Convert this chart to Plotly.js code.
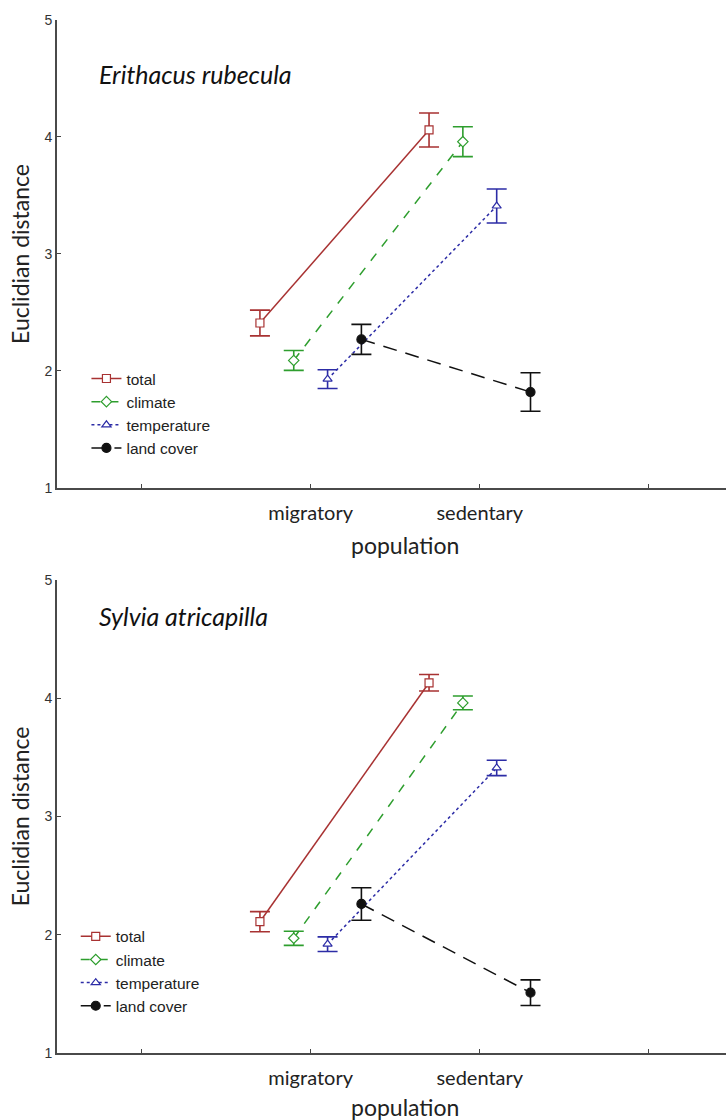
<!DOCTYPE html>
<html>
<head>
<meta charset="utf-8">
<script src="https://cdn.plot.ly/plotly-3.0.1.min.js"></script>
<style>html,body{margin:0;padding:0;background:#fff;}#chart{width:726px;height:1120px;}</style>
</head>
<body>
<div id="chart"></div>
<script>
// ---- data ----
const categories = ['migratory', 'sedentary'];
const seriesNames = ['total', 'climate', 'temperature', 'land cover'];
const yTicks = [1, 2, 3, 4, 5];

// Erithacus rubecula
const robinTotal = [2.41, 4.06];
const robinTotalErr = [0.11, 0.145];
const robinClimate = [2.09, 3.96];
const robinClimateErr = [0.085, 0.128];
const robinTemperature = [1.93, 3.41];
const robinTemperatureErr = [0.08, 0.145];
const robinLandCover = [2.27, 1.82];
const robinLandCoverErr = [0.128, 0.165];

// Sylvia atricapilla
const blackcapTotal = [2.11, 4.13];
const blackcapTotalErr = [0.085, 0.07];
const blackcapClimate = [1.97, 3.96];
const blackcapClimateErr = [0.06, 0.058];
const blackcapTemperature = [1.92, 3.41];
const blackcapTemperatureErr = [0.062, 0.065];
const blackcapLandCover = [2.26, 1.51];
const blackcapLandCoverErr = [0.137, 0.108];

// ---- styles ----
const styles = [
  {color: '#a83232', dash: 'solid', symbol: 'square', fill: '#ffffff', size: 8, offset: -0.3},
  {color: '#2e9e2e', dash: 'dash', symbol: 'diamond', fill: '#ffffff', size: 8, offset: -0.1},
  {color: '#2c2ca6', dash: 'dot', symbol: 'triangle-up', fill: '#ffffff', size: 8, offset: 0.1},
  {color: '#111111', dash: '14px,9px', symbol: 'circle', fill: '#111111', size: 9, offset: 0.3}
];

function makeTraces(values, errs, xa, ya, legendId) {
  return values.map((v, i) => {
    const s = styles[i];
    return {
      type: 'scatter', mode: 'lines+markers',
      name: seriesNames[i],
      x: categories.map((c, k) => k + 1 + s.offset),
      y: v,
      xaxis: xa, yaxis: ya, legend: legendId,
      line: {color: s.color, width: 1.5, dash: s.dash},
      marker: {symbol: s.symbol, size: s.size, color: s.fill, line: {color: s.color, width: 1.2}},
      error_y: {type: 'data', array: errs[i], visible: true, color: s.color, thickness: 1.6, width: 10}
    };
  });
}

const traces = [].concat(
  makeTraces([robinTotal, robinClimate, robinTemperature, robinLandCover],
             [robinTotalErr, robinClimateErr, robinTemperatureErr, robinLandCoverErr], 'x', 'y', 'legend'),
  makeTraces([blackcapTotal, blackcapClimate, blackcapTemperature, blackcapLandCover],
             [blackcapTotalErr, blackcapClimateErr, blackcapTemperatureErr, blackcapLandCoverErr], 'x2', 'y2', 'legend2')
);

const tickFont = {family: 'Liberation Sans, Arial, sans-serif', size: 14, color: '#333'};
const labelFont = {family: 'Lato, Open Sans, sans-serif', size: 20, color: '#222'};
const titleFont = {family: 'Lato, Open Sans, sans-serif', size: 23, color: '#222'};

function xAxis(anchor) {
  return {
    anchor: anchor, domain: [0, 1], range: [-0.5, 3.456],
    tickmode: 'array', tickvals: [0, 1, 2, 3], ticktext: ['', categories[0], categories[1], ''],
    ticks: 'inside', ticklen: 4, tickcolor: '#444', tickwidth: 1,
    showline: true, linecolor: '#4a4a4a', linewidth: 2,
    showgrid: false, zeroline: false, tickfont: labelFont,
    ticklabelstandoff: 6
  };
}
function yAxis(anchor, domain) {
  return {
    anchor: anchor, domain: domain, range: [1, 5],
    tickmode: 'array', tickvals: yTicks,
    ticks: 'inside', ticklen: 4, tickcolor: '#444', tickwidth: 1,
    showline: true, linecolor: '#4a4a4a', linewidth: 2,
    showgrid: false, zeroline: false, tickfont: tickFont,
    title: {text: 'Euclidian distance', font: titleFont, standoff: 8}
  };
}

const legendFont = {family: 'Liberation Sans, Arial, sans-serif', size: 15.5, color: '#222'};

const layout = {
  width: 726, height: 1120,
  margin: {l: 57, r: 0, t: 20, b: 67},
  paper_bgcolor: '#fff', plot_bgcolor: '#fff',
  showlegend: true,
  xaxis: xAxis('y'),
  yaxis: yAxis('x', [0.547, 1]),
  xaxis2: xAxis('y2'),
  yaxis2: yAxis('x2', [0, 0.458]),
  legend: {x: 0.044, y: 0.669, xanchor: 'left', yanchor: 'top', font: legendFont,
           bgcolor: 'rgba(0,0,0,0)', itemwidth: 30, tracegroupgap: 0},
  legend2: {x: 0.028, y: 0.129, xanchor: 'left', yanchor: 'top', font: legendFont,
            bgcolor: 'rgba(0,0,0,0)', itemwidth: 30, tracegroupgap: 0},
  annotations: [
    {text: 'Erithacus rubecula', xref: 'paper', yref: 'paper', x: 0.06, y: 0.948, xanchor: 'left', yanchor: 'middle',
     showarrow: false, font: {family: 'Lato, Open Sans, sans-serif', size: 25, color: '#111', style: 'italic'}},
    {text: 'Sylvia atricapilla', xref: 'paper', yref: 'paper', x: 0.06, y: 0.423, xanchor: 'left', yanchor: 'middle',
     showarrow: false, font: {family: 'Lato, Open Sans, sans-serif', size: 25, color: '#111', style: 'italic'}},
    {text: 'population', xref: 'paper', yref: 'paper', x: 0.52, y: 0.492, xanchor: 'center', yanchor: 'middle',
     showarrow: false, font: titleFont},
    {text: 'population', xref: 'paper', yref: 'paper', x: 0.52, y: -0.052, xanchor: 'center', yanchor: 'middle',
     showarrow: false, font: titleFont}
  ]
};

Plotly.newPlot('chart', traces, layout, {displayModeBar: false, staticPlot: true});
</script>
</body>
</html>
